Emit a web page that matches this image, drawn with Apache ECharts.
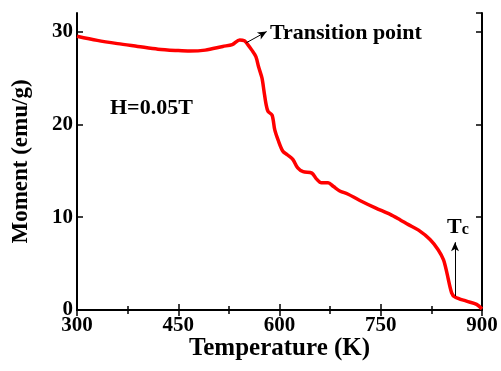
<!DOCTYPE html>
<html>
<head>
<meta charset="utf-8">
<script src="https://cdn.jsdelivr.net/npm/echarts@6.0.0/dist/echarts.min.js"></script>
<style>
  html, body { margin: 0; padding: 0; background: #fff; }
  #chart { width: 501px; height: 371px; }
</style>
</head>
<body>
<div id="chart"></div>
<script>
// temperature (K) and magnetic moment (emu/g)
const temps = [300, 330, 360, 390, 420, 450, 467, 490, 516, 530, 541, 548, 553, 559, 565, 569, 574, 577, 580, 583, 589, 593, 598, 605, 612, 620, 627, 635, 648, 655, 662, 672, 680, 690, 701, 719, 742, 764, 779, 791, 806, 823, 835, 843, 848, 855, 860, 877, 892, 900];
const moments = [29.5, 29.05, 28.7, 28.4, 28.1, 27.95, 27.9, 28.0, 28.4, 28.6, 29.1, 29.0, 28.6, 28.0, 27.3, 26.2, 25.0, 23.6, 22.2, 21.4, 21.0, 19.4, 18.3, 17.1, 16.7, 16.2, 15.3, 14.9, 14.75, 14.1, 13.7, 13.7, 13.3, 12.8, 12.5, 11.8, 11.0, 10.3, 9.7, 9.2, 8.6, 7.6, 6.5, 5.4, 4.0, 1.85, 1.4, 0.95, 0.6, 0.1];
const xTicks = [300, 450, 600, 750, 900];
const yTicks = [0, 10, 20, 30];
// annotation arrows: [from, to] in data units
const transitionArrow = [[551, 28.8], [581, 30.0]];
const tcArrow = [[860, 1.5], [860, 7.3]];

const font = "Liberation Serif";
const curve = temps.map((t, i) => [t, moments[i]]);

const axisLine = { show: true, lineStyle: { color: "#000", width: 2 } };
const tick = { inside: true, length: 6, lineStyle: { width: 1.5, color: "#000" } };
const minor = { show: true, splitNumber: 2, length: 4, lineStyle: { width: 1.5, color: "#000" } };

const chart = echarts.init(document.getElementById("chart"));
chart.setOption({
  animation: false,
  grid: { left: 77, right: 19, top: 13, bottom: 61 },
  xAxis: [
    {
      type: "value", min: 300, max: 900, interval: 150,
      axisLine: axisLine, axisTick: tick, minorTick: minor,
      splitLine: { show: false },
      axisLabel: {
        margin: 5, color: "#000", fontFamily: font, fontWeight: "bold", fontSize: 21,
        formatter: (v) => (xTicks.includes(v) ? String(v) : "")
      },
      name: "Temperature (K)", nameLocation: "middle", nameGap: 26, nameMoveOverlap: false,
      nameTextStyle: { color: "#000", fontFamily: font, fontWeight: "bold", fontSize: 25 }
    },
    {
      type: "value", position: "top", min: 300, max: 900, interval: 150,
      axisLine: axisLine, axisTick: tick, minorTick: minor,
      splitLine: { show: false },
      axisLabel: { show: false }
    }
  ],
  yAxis: [
    {
      type: "value", min: 0, max: 32, interval: 10,
      axisLine: axisLine, axisTick: tick,
      splitLine: { show: false },
      axisLabel: {
        margin: 4, color: "#000", fontFamily: font, fontWeight: "bold", fontSize: 21,
        showMaxLabel: false,
        formatter: (v) => (yTicks.includes(v) ? String(v) : "")
      },
      name: "Moment (emu/g)", nameLocation: "middle", nameGap: 44, nameMoveOverlap: false,
      nameTextStyle: { color: "#000", fontFamily: font, fontWeight: "bold", fontSize: 23 }
    },
    {
      type: "value", position: "right", min: 0, max: 32, interval: 10,
      axisLine: axisLine, axisTick: tick,
      splitLine: { show: false },
      axisLabel: { show: false }
    }
  ],
  series: [
    {
      type: "line",
      xAxisIndex: 0, yAxisIndex: 0,
      data: curve,
      smooth: 0.3,
      showSymbol: false,
      lineStyle: { color: "#ff0000", width: 3.5 },
      markLine: {
        silent: true,
        symbol: ["none", "arrow"],
        symbolSize: [6, 9],
        label: { show: false },
        lineStyle: { color: "#000", width: 1, type: "solid" },
        data: [
          [{ coord: transitionArrow[0] }, { coord: transitionArrow[1] }],
          [{ coord: tcArrow[0] }, { coord: tcArrow[1] }]
        ]
      }
    }
  ],
  graphic: [
    {
      type: "text", left: 110, top: 97,
      style: { text: "H=0.05T", fill: "#000", font: "bold 22px 'Liberation Serif'" }
    },
    {
      type: "text", left: 270, top: 22,
      style: { text: "Transition point", fill: "#000", font: "bold 22px 'Liberation Serif'" }
    },
    {
      type: "text", left: 447, top: 216,
      style: {
        text: "{a|T}{b|c}",
        rich: {
          a: { fill: "#000", fontFamily: font, fontWeight: "bold", fontSize: 22 },
          b: { fill: "#000", fontFamily: font, fontWeight: "bold", fontSize: 16, padding: [6, 0, 0, 0] }
        }
      }
    }
  ]
});
</script>
</body>
</html>
